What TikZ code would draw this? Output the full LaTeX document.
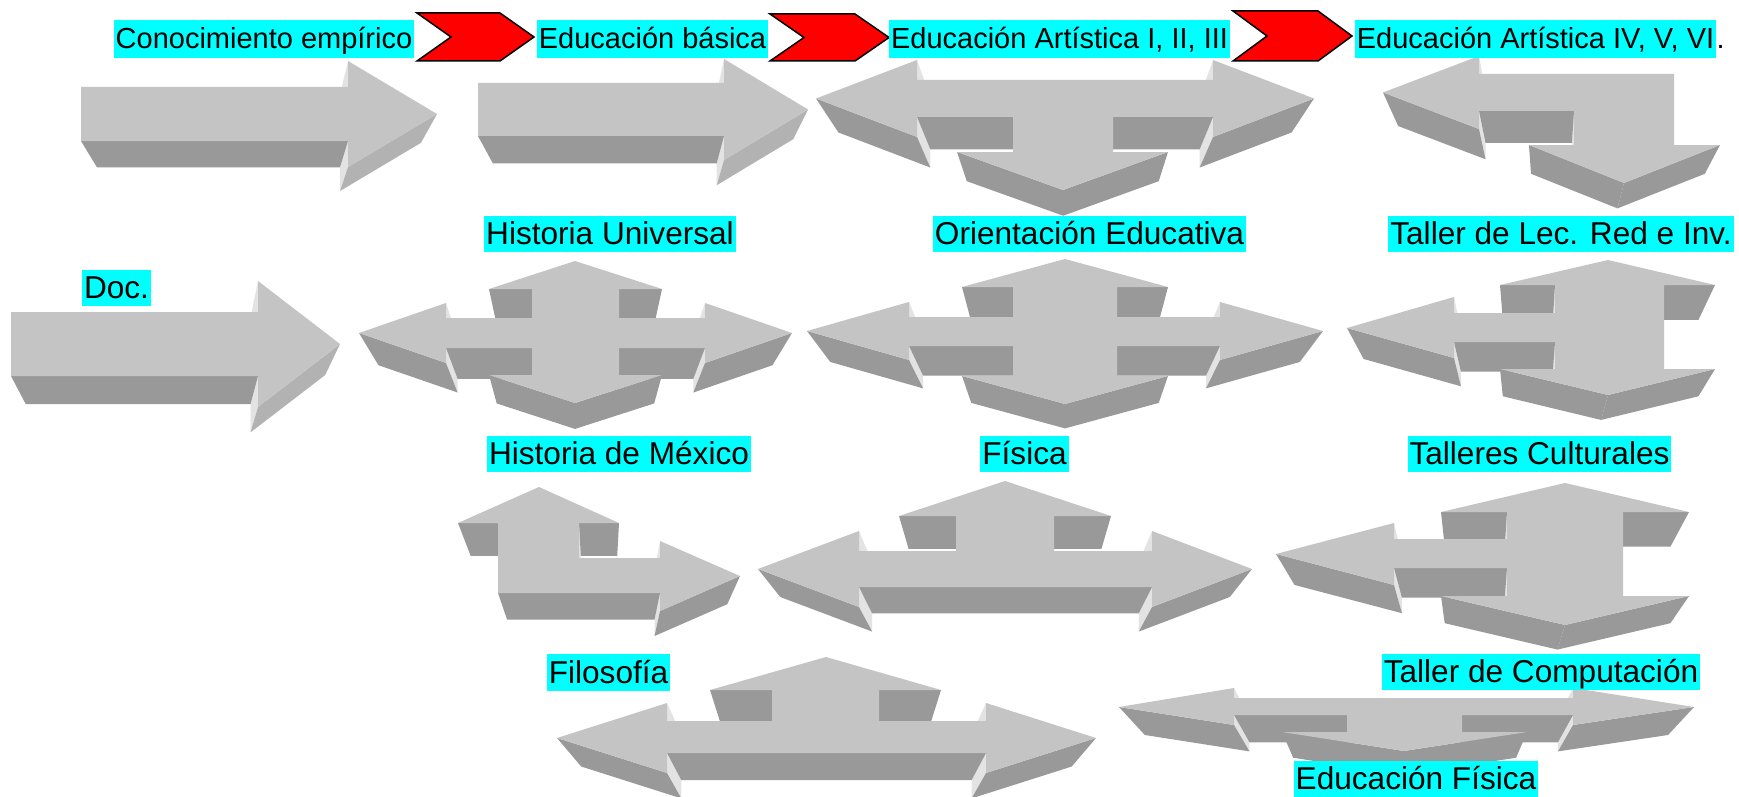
\documentclass[tikz,border=0pt]{standalone}
\usepackage{fontspec}
\setmainfont{Liberation Sans}
\definecolor{aqua}{RGB}{0,255,255}
\definecolor{chevred}{RGB}{255,0,0}
\tikzset{
  topface/.style={fill=black!23},
  lab/.style={fill=aqua, inner xsep=2pt, inner ysep=0.4pt, text height=28.6pt, text depth=6.7pt, font=\fontsize{31.6}{36}\selectfont},
  labtop/.style={fill=aqua, inner xsep=2pt, inner ysep=2.8pt, text height=26.2pt, text depth=6.2pt, font=\fontsize{29}{33}\selectfont},
  chev/.style={fill=chevred, draw=black, line width=1.5pt, line join=miter}
}
% #1,#2 = vanishing point, #3 = clockwise outline x/y (first point repeated)
\newcommand\blockarr[3]{%
  \def\Vx{#1}\def\Vy{#2}%
  \foreach \pass in {11,40,30}{%
  \foreach \x/\y [count=\i, remember=\x as \px (initially 0), remember=\y as \py (initially 0)] in {#3}{%
    \ifnum\i=1
      \xdef\toppath{(\x,\y)}%
    \else
      \xdef\toppath{\toppath -- (\x,\y)}%
      \pgfmathsetmacro\ddx{\x-\px}%
      \pgfmathsetmacro\ddy{\y-\py}%
      \pgfmathsetmacro\len{veclen(\ddx,\ddy)}%
      \pgfmathsetmacro\nx{\ddy/\len}%
      \pgfmathsetmacro\ny{\ddx/\len*(-1)}%
      \pgfmathsetmacro\vis{\nx*(\Vx-\px)+\ny*(\Vy-\py)}%
      \pgfmathtruncatemacro\shd{\ny>0.9 ? 40 : (abs(\ny)<0.35 ? 11 : 30)}%
      \ifnum\shd=\pass
      \ifdim\vis pt>0pt
        \fill[black!\shd] (\px,\py) -- (\x,\y) -- ({\Vx+0.91*(\x-\Vx)},{\Vy+0.91*(\y-\Vy)}) -- ({\Vx+0.91*(\px-\Vx)},{\Vy+0.91*(\py-\Vy)}) -- cycle;
      \fi
      \fi
    \fi
  }}%
  \edef\doit{\noexpand\fill[topface] \toppath -- cycle;}\doit
}
\begin{document}
\begin{tikzpicture}[x=1pt,y=-1pt]
\useasboundingbox (0,0) rectangle (1739,797);
\clip (0,0) rectangle (1739,797);
\fill[white] (0,0) rectangle (1739,797);

% row 1
\blockarr{259}{434}{81/87, 348/87, 348/61, 437/114, 348/167, 348/141, 81/141, 81/87}
\blockarr{643}{440}{478/83, 724/83, 724/59, 808/109.5, 724/160, 724/136, 478/136, 478/83}
\blockarr{1065}{476}{816/98.5, 917/60, 917/80, 1213/80, 1213/60, 1314/98.5, 1213/137, 1213/117, 1113/117, 1113/152, 1168/152, 1063/190, 957/152, 1013/152, 1013/117, 917/117, 917/137, 816/98.5}
\blockarr{1551}{465}{1383/92.5, 1479/56, 1479/74, 1674/74, 1674/145, 1720/145, 1624/183, 1529/145, 1574/145, 1574/111, 1479/111, 1479/129, 1383/92.5}
% row 2
\blockarr{175}{689}{11/312, 258/312, 258/281, 340/344, 258/407, 258/376, 11/376, 11/312}
\blockarr{575}{691}{359/333, 446/303, 446/318, 532/318, 532/289, 489/289, 575/261, 662/289, 619/289, 619/318, 705/318, 705/303, 792/333, 705/363, 705/348, 619/348, 619/375, 662/375, 575/403, 489/375, 532/375, 532/348, 446/348, 446/363, 359/333}
\blockarr{1065}{675}{807/331, 909/302, 909/317, 1013/317, 1013/287, 962/287, 1065/259, 1168/287, 1117/287, 1117/317, 1220/317, 1220/302, 1323/331, 1220/360, 1220/346, 1117/346, 1117/376, 1168/376, 1065/404, 962/376, 1013/376, 1013/346, 909/346, 909/360, 807/331}
\blockarr{1531}{672}{1347/328, 1454/297, 1454/313, 1555/313, 1555/285, 1500/285, 1608/260, 1715/285, 1664/285, 1664/369, 1715/369, 1608/395, 1500/369, 1555/369, 1555/342, 1454/342, 1454/358, 1347/328}
% row 3
\blockarr{599}{889}{539/487, 619/523, 579/523, 579/558, 660/558, 660/541, 740/576, 660/611, 660/593, 498/593, 498/523, 458/523, 539/487}
\blockarr{1005}{880}{758/569, 859/531, 859/551, 956/551, 956/516, 899/516, 1005/481, 1111/516, 1054/516, 1054/551, 1152/551, 1152/531, 1252/569, 1152/607, 1152/587, 859/587, 859/607, 758/569}
\blockarr{1482}{898}{1276/554, 1394/523, 1394/539, 1507/539, 1507/512, 1441/512, 1565/483, 1689/512, 1623/512, 1623/596, 1689/596, 1565/625, 1441/596, 1507/596, 1507/568, 1394/568, 1394/585, 1276/554}
% row 4
\blockarr{826}{1055}{557/738, 667/703, 667/721, 772/721, 772/690, 710/690, 826/657, 941/690, 879/690, 879/721, 986/721, 986/703, 1096/738, 986/773, 986/753, 667/753, 667/773, 557/738}
\blockarr{1406}{1018}{1119/707, 1234/688, 1234/698, 1573/698, 1573/688, 1694/707, 1573/725, 1573/715, 1462/715, 1462/732, 1527/732, 1404/751, 1282/732, 1347/732, 1347/715, 1234/715, 1234/725, 1119/707}

% red chevrons
\draw[chev] (417,13) -- (500,13) -- (534,37) -- (500,61) -- (417,61) -- (451,37) -- cycle;
\draw[chev] (770,14) -- (855,14) -- (889,37.5) -- (855,61) -- (770,61) -- (804,37.5) -- cycle;
\draw[chev] (1233,11) -- (1318,11) -- (1352,36) -- (1318,61) -- (1233,61) -- (1267,36) -- cycle;

% labels
\node[labtop] (t1) at (264,39) {Conocimiento empírico};
\node[labtop] (t2) at (652.5,39) {Educación básica};
\node[labtop] (t3) at (1059.5,39) {Educación Artística I, II, III};
\node[labtop] (t4) at (1535.5,39) {Educación Artística IV, V, VI};
\node[anchor=base west, inner sep=0pt, font=\fontsize{29}{33}\selectfont] (t4dot) at (t4.base east) {.};

\node[lab] (hu) at (610,234) {Historia Universal};
\node[lab] (oe) at (1089.5,234) {Orientación Educativa};
\node[lab] (tl) at (1561,234) {Taller de Lec. Red e Inv.};
\node[lab] (doc) at (116.5,288) {Doc.};
\node[lab] (hm) at (619,454) {Historia de México};
\node[lab] (fi) at (1024.5,454) {Física};
\node[lab] (tc) at (1539.5,454) {Talleres Culturales};
\node[lab] (fil) at (608.5,672.5) {Filosofía};
\node[lab] (comp) at (1541,672) {Taller de Computación};
\node[lab] (ef) at (1416,779) {Educación Física};
\end{tikzpicture}
\end{document}
